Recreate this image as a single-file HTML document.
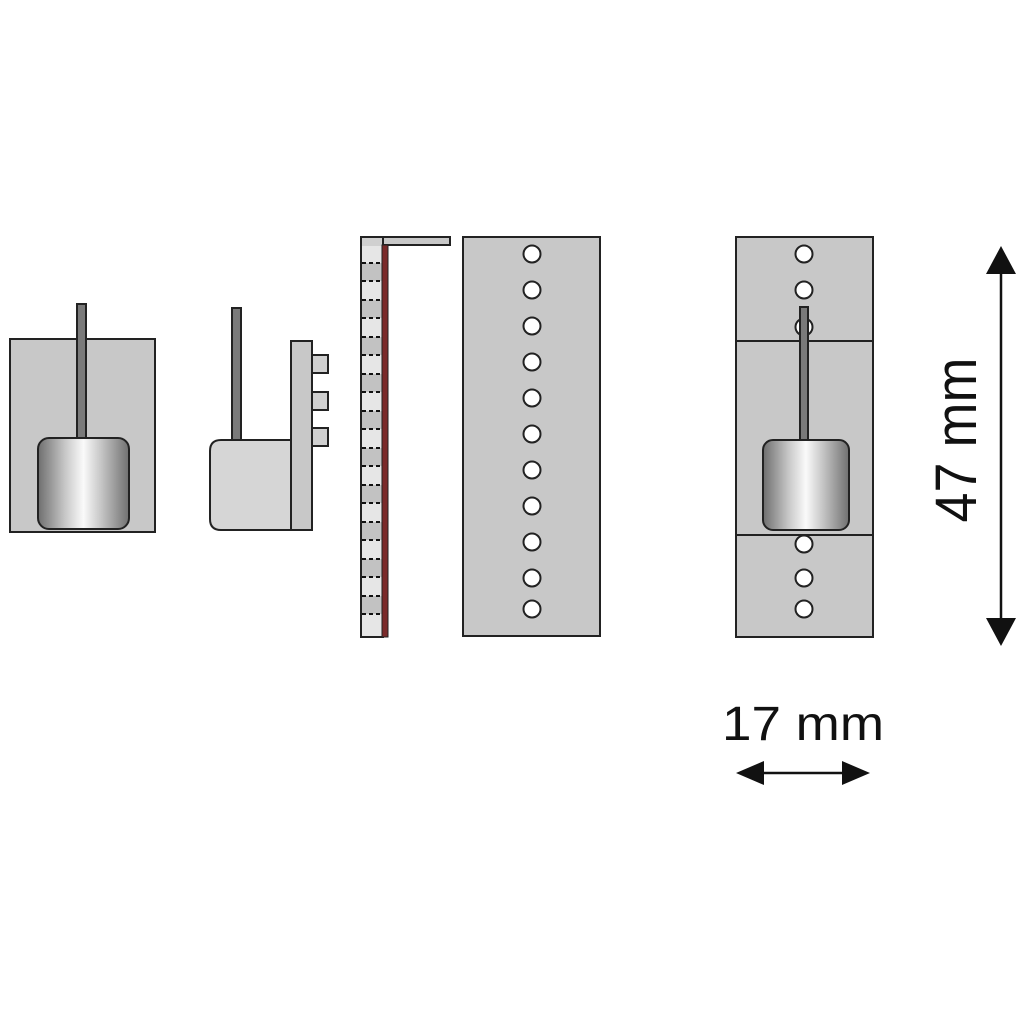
<!DOCTYPE html>
<html><head><meta charset="utf-8"><style>html,body{margin:0;padding:0;background:#fff;}svg{display:block}</style></head>
<body>
<svg width="1024" height="1024" viewBox="0 0 1024 1024" xmlns="http://www.w3.org/2000/svg">
<defs>
<linearGradient id="cyl" x1="0" x2="1" y1="0" y2="0">
<stop offset="0" stop-color="#6e6e6e"/><stop offset="0.3" stop-color="#c8c8c8"/><stop offset="0.5" stop-color="#fafafa"/><stop offset="0.7" stop-color="#c4c4c4"/><stop offset="1" stop-color="#707070"/>
</linearGradient>
</defs>
<g stroke="#222" stroke-width="2">
<!-- element 1 -->
<rect x="10" y="339" width="145" height="193" fill="#c8c8c8"/>
<rect x="77" y="304" width="9" height="136" fill="#7a7a7a"/>
<rect x="38" y="438" width="91" height="91" rx="11" fill="url(#cyl)"/>
<!-- element 2 -->
<rect x="232" y="308" width="9" height="133" fill="#7a7a7a"/>
<path d="M221 440 H292 V530 H221 Q210 530 210 519 V451 Q210 440 221 440 Z" fill="#d6d6d6"/>
<rect x="291" y="341" width="21" height="189" fill="#c8c8c8"/>
<rect x="312" y="355" width="16" height="18" fill="#d0d0d0"/>
<rect x="312" y="392" width="16" height="18" fill="#d0d0d0"/>
<rect x="312" y="428" width="16" height="18" fill="#d0d0d0"/>
<!-- strip -->
<rect x="361" y="237" width="89" height="8" fill="#c8c8c8"/>
<rect x="361" y="237" width="22" height="400" fill="#d0d0d0"/>
</g>
<g>
<rect x="362" y="246" width="20" height="390" fill="#e6e6e6"/>
<g fill="#c2c2c2">
<rect x="362" y="263" width="20" height="18"/><rect x="362" y="300" width="20" height="18"/><rect x="362" y="337" width="20" height="18"/><rect x="362" y="374" width="20" height="18"/><rect x="362" y="411" width="20" height="18"/><rect x="362" y="448" width="20" height="18"/><rect x="362" y="485" width="20" height="18"/><rect x="362" y="522" width="20" height="18"/><rect x="362" y="559" width="20" height="18"/><rect x="362" y="596" width="20" height="18"/>
</g>
<g stroke="#111" stroke-width="2" stroke-dasharray="4,3">
<path d="M362 263H382M362 281H382M362 300H382M362 318H382M362 337H382M362 355H382M362 374H382M362 392H382M362 411H382M362 429H382M362 448H382M362 466H382M362 485H382M362 503H382M362 522H382M362 540H382M362 559H382M362 577H382M362 596H382M362 614H382"/>
</g>
<rect x="382" y="245" width="6" height="392" fill="#7a2a2a" stroke="#222" stroke-width="1"/>
</g>
<!-- panel 3 -->
<rect x="463" y="237" width="137" height="399" fill="#c8c8c8" stroke="#222" stroke-width="2"/>
<g fill="#fff" stroke="#222" stroke-width="2">
<circle cx="532" cy="254" r="8.5"/><circle cx="532" cy="290" r="8.5"/><circle cx="532" cy="326" r="8.5"/><circle cx="532" cy="362" r="8.5"/><circle cx="532" cy="398" r="8.5"/><circle cx="532" cy="434" r="8.5"/><circle cx="532" cy="470" r="8.5"/><circle cx="532" cy="506" r="8.5"/><circle cx="532" cy="542" r="8.5"/><circle cx="532" cy="578" r="8.5"/><circle cx="532" cy="609" r="8.5"/>
</g>
<!-- panel 4 -->
<g stroke="#222" stroke-width="2">
<rect x="736" y="237" width="137" height="400" fill="#c8c8c8"/>
<line x1="736" y1="341" x2="873" y2="341"/>
<line x1="736" y1="535" x2="873" y2="535"/>
<g fill="#fff">
<circle cx="804" cy="254" r="8.5"/><circle cx="804" cy="290" r="8.5"/><circle cx="804" cy="327" r="8.5"/><circle cx="804" cy="544" r="8.5"/><circle cx="804" cy="578" r="8.5"/><circle cx="804" cy="609" r="8.5"/>
</g>
<rect x="800" y="307" width="8" height="134" fill="#7a7a7a"/>
<rect x="763" y="440" width="86" height="90" rx="10" fill="url(#cyl)"/>
</g>
<!-- dims -->
<g stroke="#111" stroke-width="2.5"><line x1="1001" y1="270" x2="1001" y2="620"/><line x1="760" y1="773" x2="846" y2="773"/></g>
<g fill="#111">
<polygon points="1001,246 986,274 1016,274"/><polygon points="1001,646 986,618 1016,618"/>
<polygon points="736,773 764,761 764,785"/><polygon points="870,773 842,761 842,785"/>
</g>
<text x="0" y="0" transform="translate(976,440) rotate(-90)" text-anchor="middle" font-family="Liberation Sans, sans-serif" font-size="58" textLength="165" lengthAdjust="spacingAndGlyphs" fill="#111">47 mm</text>
<text x="803" y="740" text-anchor="middle" font-family="Liberation Sans, sans-serif" font-size="48" textLength="162" lengthAdjust="spacingAndGlyphs" fill="#111">17 mm</text>
</svg>
</body></html>
